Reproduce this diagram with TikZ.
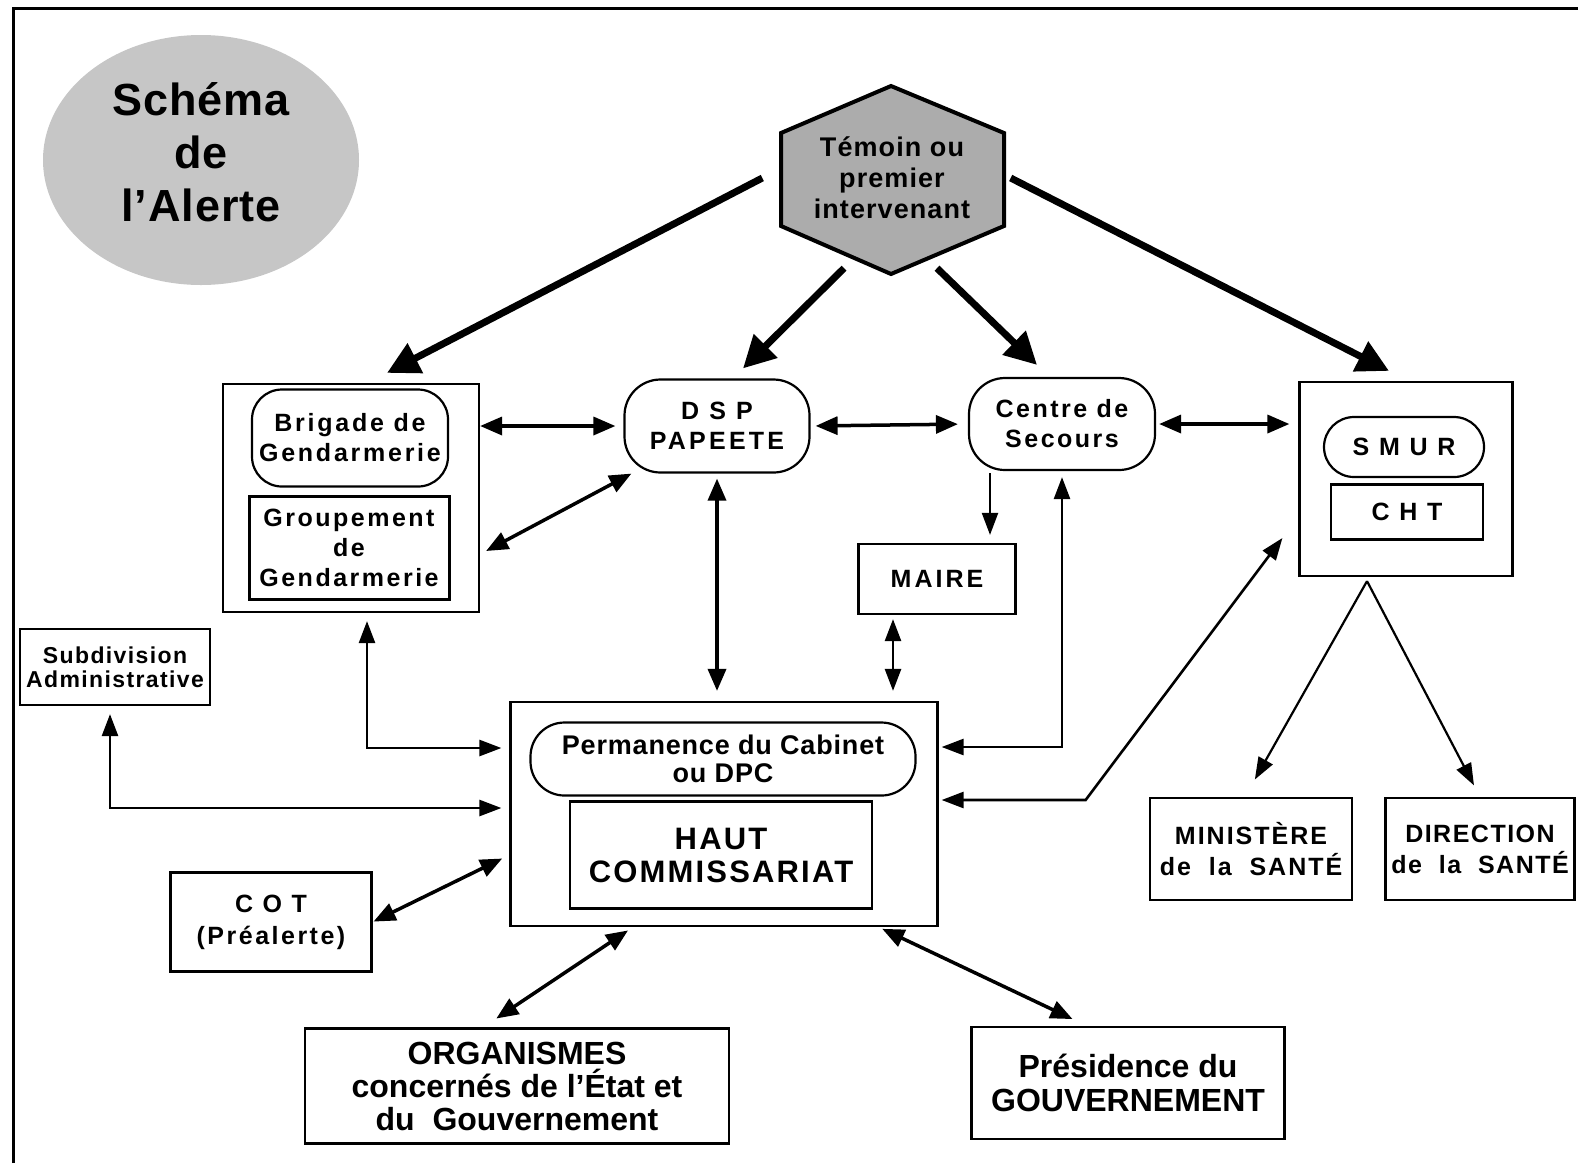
\documentclass[tikz,border=0pt]{standalone}
\usepackage{fontspec}
\setmainfont{Liberation Sans}
\usetikzlibrary{arrows.meta,calc}
\begin{document}
\begin{tikzpicture}[x=1pt,y=-1pt,
  box/.style={draw, line width=2.2pt, align=center, inner sep=0pt},
  pill/.style={box, rounded corners=30pt},
  fs/.style n args={3}{font=\fontsize{#1}{#2}\selectfont\bfseries\addfontfeatures{LetterSpace=#3}},
  bigarrow/.style={line width=7pt, -{Triangle[length=32pt,width=32pt]}},
  dbl/.style={line width=3.5pt, {Triangle[length=22pt,width=18pt]}-{Triangle[length=22pt,width=18pt]}},
  thinarrow/.style={line width=2.2pt, -{Triangle[length=22pt,width=16pt]}},
  thindbl/.style={line width=2.6pt, {Triangle[length=22pt,width=16pt]}-{Triangle[length=22pt,width=16pt]}},
]
\useasboundingbox (0,0) rectangle (1578,1163);
% frame
\draw[line width=3pt] (13,1163) -- (13,8) -- (1578,8);

% title ellipse
\fill[gray!45] (201,160) ellipse [x radius=158pt, y radius=125pt];
\node[fs={45}{53}{2}, align=center] (title) at (201,152) {Schéma\\de\\l’Alerte};

% hexagon
\draw[line width=4pt, fill=gray!65] (891,86) -- (1004,133) -- (1004,226) -- (891,274) -- (781,226) -- (781,133) -- cycle;
\node[minimum width=223pt, minimum height=188pt, inner sep=0pt, align=center, fs={27}{31}{4}] (hex) at (892,178) {Témoin ou\\premier\\intervenant};

% Gendarmerie
\node[box, minimum width=256pt, minimum height=228pt] (gend) at (351,498) {};
\node[pill, minimum width=196pt, minimum height=97pt, fs={25}{30}{11}] (brig) at (350,438) {Brigade de\\Gendarmerie};
\node[box, line width=3pt, minimum width=200pt, minimum height=103pt, fs={25}{30}{10}] (grp) at (349,548) {Groupement\\de\\Gendarmerie};

% DSP
\node[pill, rounded corners=36pt, minimum width=185pt, minimum height=93pt, fs={25}{30}{13}] (dsp) at (717,426) {D S P\\PAPEETE};
% Centre de secours
\node[pill, rounded corners=36pt, minimum width=186pt, minimum height=92pt, fs={25}{30}{10}] (centre) at (1062,424) {Centre de\\Secours};

% SMUR / CHT
\node[box, minimum width=213pt, minimum height=194pt] (smur) at (1406,479) {};
\node[pill, minimum width=160pt, minimum height=60pt, fs={25}{30}{11}] (smurin) at (1404,447) {S M U R};
\node[box, minimum width=152pt, minimum height=55pt, fs={25}{30}{11}] (cht) at (1407,512) {C H T};

% MAIRE
\node[box, minimum width=157pt, minimum height=70pt, fs={25}{28}{12}] (maire) at (937,579) {MAIRE};

% Subdivision
\node[box, minimum width=190pt, minimum height=76pt, fs={23}{24}{6}] (subd) at (115,667) {Subdivision\\Administrative};

% central
\node[box, minimum width=427pt, minimum height=224pt] (cen) at (724,814) {};
\node[pill, rounded corners=34pt, minimum width=385pt, minimum height=73pt, fs={27}{28}{3}] (perm) at (723,759) {Permanence du Cabinet\\ou DPC};
\node[box, minimum width=302pt, minimum height=107pt, fs={31}{33}{7}] (haut) at (721,855) {HAUT\\COMMISSARIAT};

% COT
\node[box, minimum width=201pt, minimum height=99pt, fs={25}{32}{10}] (cot) at (271,922) {C O T\\(Préalerte)};

% Santé
\node[box, minimum width=202pt, minimum height=102pt, fs={25}{31}{8}] (min) at (1251,849) {MINISTÈRE\\de~ la~ SANTÉ};
\node[box, minimum width=189pt, minimum height=102pt, fs={25}{31}{6}] (dir) at (1480,849) {DIRECTION\\de~ la~ SANTÉ};

% bottom
\node[box, minimum width=424pt, minimum height=115pt, fs={32}{33}{0}] (org) at (517,1086) {ORGANISMES\\concernés de l’État et\\du~ Gouvernement};
\node[box, minimum width=313pt, minimum height=112pt, fs={32}{34}{0}] (pres) at (1128,1083) {Présidence du\\GOUVERNEMENT};

% thick arrows from the witness
\draw[bigarrow] ([xshift=-18pt]hex.west) -- ([xshift=36pt,yshift=10pt]gend.north);
\draw[bigarrow] ([xshift=-48pt,yshift=4pt]hex.south) -- ([xshift=26pt,yshift=10pt]dsp.north);
\draw[bigarrow] ([xshift=45pt,yshift=4pt]hex.south) -- ([xshift=-25pt,yshift=12pt]centre.north);
\draw[bigarrow] ([xshift=7pt]hex.east) -- ([xshift=-17pt,yshift=10pt]smur.north);

% horizontal links
\draw[dbl, shorten >=8pt] (gend.east |- dsp.west) -- (dsp.west);
\draw[dbl, shorten <=5pt, shorten >=10pt] (dsp.east) -- (centre.west);
\draw[dbl, shorten <=3pt, shorten >=9pt] (centre.east) -- (smur.west |- centre.east);
\draw[dbl] ([xshift=6pt,yshift=-3pt]gend.east |- grp.east) -- ([xshift=8pt]dsp.south west);

% vertical links
\draw[dbl, shorten <=5pt, shorten >=10pt] (dsp.south) -- (dsp.south |- cen.north);
\draw[thinarrow, shorten <=2pt, shorten >=8pt] ([xshift=-72pt]centre.south) -- ([xshift=-72pt]centre.south |- maire.north);
\draw[thindbl, shorten <=4pt, shorten >=10pt] ([xshift=-44pt]maire.south) -- ([xshift=-44pt]maire.south |- cen.north);

% elbow links to central
\draw[thindbl, shorten <=3pt, shorten >=6pt] ([yshift=67pt]cen.east) -| (centre.south);
\draw[thindbl, shorten <=3pt] ([yshift=14pt]cen.east) -- ++(147,0) -- ([xshift=-16pt,yshift=-59pt]smur.west);
\draw[thindbl, shorten <=8pt, shorten >=8pt] ([yshift=66pt]cen.west) -| ([xshift=16pt]gend.south);
\draw[thindbl, shorten <=8pt, shorten >=8pt] ([yshift=6pt]cen.west) -| ([xshift=-5pt]subd.south);

% diagonal links to central
\draw[dbl, shorten <=1pt, shorten >=8pt] (cot.east) -- ([yshift=-41pt]cen.west);
\draw[dbl, shorten <=16pt, shorten >=6pt] ([xshift=-34pt]org.north) -- ([xshift=-91pt]cen.south);
\draw[dbl, shorten <=16pt, shorten >=4pt] ([xshift=-41pt]pres.north) -- ([xshift=-60pt]cen.south east);

% SMUR to health
\coordinate (split) at ([xshift=-39pt,yshift=-4pt]smur.south);
\draw[thinarrow, shorten >=20pt] (split) -- ([xshift=-6pt]min.north);
\draw[thinarrow, shorten >=13pt] (split) -- (dir.north);
\end{tikzpicture}
\end{document}
